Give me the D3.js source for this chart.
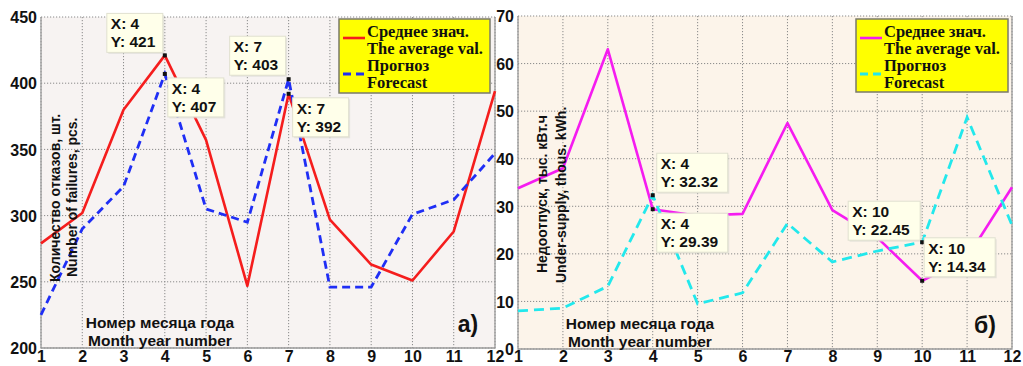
<!DOCTYPE html>
<html>
<head>
<meta charset="utf-8">
<script src="https://cdn.jsdelivr.net/npm/d3@7"></script>
<style>
  html, body { margin: 0; padding: 0; background: #ffffff; }
  svg { display: block; }
  .tick-label { font-family: "Liberation Sans", Arial, sans-serif; font-weight: bold; font-size: 16px; fill: #111; }
  .axis-title { font-family: "Liberation Sans", Arial, sans-serif; font-weight: bold; font-size: 14px; fill: #111; }
  .x-title { font-family: "Liberation Sans", Arial, sans-serif; font-weight: bold; font-size: 15.5px; fill: #111; }
  .legend-text { font-family: "Liberation Serif", "Times New Roman", serif; font-weight: bold; font-size: 16.5px; fill: #111; }
  .tip-text { font-family: "Liberation Sans", Arial, sans-serif; font-weight: bold; font-size: 15.5px; fill: #111; }
  .panel-tag { font-family: "Liberation Sans", Arial, sans-serif; font-weight: bold; font-size: 23px; fill: #111; }
</style>
</head>
<body>
<svg id="chart" width="1023" height="366"></svg>
<script>
// Months 1..12
const months = [1, 2, 3, 4, 5, 6, 7, 8, 9, 10, 11, 12];

// Panel a): number of failures
const failuresAverage  = [279, 302, 380, 421, 357, 247, 392, 297, 263, 251, 288, 394];
const failuresForecast = [225, 290, 322, 407, 305, 295, 403, 246, 246, 301, 312, 347];
const failuresTicks = [200, 250, 300, 350, 400, 450];

// Panel б): under-supply, thousand kWh
const supplyAverage  = [33.8, 38.0, 63.0, 29.39, 28.0, 28.4, 47.5, 29.2, 23.4, 14.34, 19.2, 34.0];
const supplyForecast = [8.0, 8.6, 13.2, 32.32, 9.5, 11.8, 26.4, 18.3, 20.6, 22.45, 48.7, 26.0];
const supplyTicks = [0, 10, 20, 30, 40, 50, 60, 70];

// Data tips: point (month, value) and where its box sits relative to the point
const failuresTips = [
  { x: 4, y: 421, dx: -58, dy: -42, w: 56 },
  { x: 4, y: 407, dx: 3, dy: 4, w: 56 },
  { x: 7, y: 403, dx: -59, dy: -43, w: 56 },
  { x: 7, y: 392, dx: 4, dy: 4, w: 56 }
];
const supplyTips = [
  { x: 4, y: 32.32, dx: 4, dy: -42, w: 71 },
  { x: 4, y: 29.39, dx: 4, dy: 4, w: 71 },
  { x: 10, y: 22.45, dx: -74, dy: -41, w: 72 },
  { x: 10, y: 14.34, dx: 2, dy: -43, w: 71 }
];

const svg = d3.select("#chart");

function panel(cfg) {
  const x = d3.scaleLinear().domain([1, 12]).range([cfg.x0, cfg.x1]);
  const y = d3.scaleLinear().domain(cfg.yDomain).range([cfg.y0, cfg.y1]);
  const g = svg.append("g");

  // plot background
  g.append("rect")
    .attr("x", cfg.x0).attr("y", cfg.y1)
    .attr("width", cfg.x1 - cfg.x0).attr("height", cfg.y0 - cfg.y1)
    .attr("fill", cfg.bg);

  // dotted grid
  g.append("g").selectAll("line").data(months).join("line")
    .attr("x1", d => x(d)).attr("x2", d => x(d))
    .attr("y1", cfg.y1).attr("y2", cfg.y0)
    .attr("stroke", "#8a8a8a").attr("stroke-width", 1).attr("stroke-dasharray", "1.2,1.8");
  g.append("g").selectAll("line").data(cfg.yTicks).join("line")
    .attr("x1", cfg.x0).attr("x2", cfg.x1)
    .attr("y1", d => y(d)).attr("y2", d => y(d))
    .attr("stroke", "#8a8a8a").attr("stroke-width", 1).attr("stroke-dasharray", "1.2,1.8");

  // frame: solid left, bottom, right
  g.append("path")
    .attr("d", `M${cfg.x0},${cfg.y1}V${cfg.y0}H${cfg.x1}V${cfg.y1}`)
    .attr("fill", "none").attr("stroke", "#9a9a9a").attr("stroke-width", 1.3);

  // axes via d3 axis generators, styled as plain bold labels
  const yAxis = d3.axisLeft(y).tickValues(cfg.yTicks).tickSize(0).tickPadding(4);
  const ya = g.append("g").attr("transform", `translate(${cfg.x0},0)`).call(yAxis);
  ya.select(".domain").remove();
  ya.selectAll("text").attr("class", "tick-label").attr("dy", "0.36em");

  const xAxis = d3.axisBottom(x).tickValues(months).tickSize(0).tickPadding(0);
  const xa = g.append("g").attr("transform", `translate(0,${cfg.y0})`).call(xAxis);
  xa.select(".domain").remove();
  xa.selectAll("text").attr("class", "tick-label").attr("dy", null).attr("y", 362 - cfg.y0);

  // series lines
  const line = d3.line().x((d, i) => x(months[i])).y(d => y(d));
  g.append("path").datum(cfg.avg)
    .attr("d", line).attr("fill", "none")
    .attr("stroke", cfg.avgColor).attr("stroke-width", 2.6).attr("stroke-linejoin", "round");
  g.append("path").datum(cfg.fc)
    .attr("d", line).attr("fill", "none")
    .attr("stroke", cfg.fcColor).attr("stroke-width", 2.8)
    .attr("stroke-dasharray", cfg.dash);

  // y axis title (two lines, rotated)
  cfg.yTitle.forEach((t, i) => {
    g.append("text").attr("class", "axis-title")
      .attr("transform", `translate(${cfg.yTitleX[i]},${cfg.yTitleY[i]}) rotate(-90)`)
      .attr("text-anchor", "start")
      .text(t);
  });

  // x axis title inside the plot
  const xc = cfg.xTitleX;
  g.append("text").attr("class", "x-title").attr("x", xc).attr("y", cfg.y0 - 20)
    .attr("text-anchor", "middle").text("Номер месяца года");
  g.append("text").attr("class", "x-title").attr("x", xc).attr("y", cfg.y0 - 2)
    .attr("text-anchor", "middle").text("Month year number");

  // panel tag
  g.append("text").attr("class", "panel-tag")
    .attr("x", cfg.tagX).attr("y", cfg.y0 - 16).attr("text-anchor", "middle").text(cfg.tag);

  // legend
  const L = cfg.legend;
  g.append("rect").attr("x", L.x).attr("y", L.y).attr("width", L.w).attr("height", L.h)
    .attr("fill", "#ffff00").attr("stroke", "#7a7a6a").attr("stroke-width", 1.5);
  g.append("line").attr("x1", L.x + 4).attr("x2", L.x + 26).attr("y1", L.y + 19).attr("y2", L.y + 19)
    .attr("stroke", cfg.avgColor).attr("stroke-width", 2.6);
  g.append("line").attr("x1", L.x + 4).attr("x2", L.x + 26).attr("y1", L.y + 55).attr("y2", L.y + 55)
    .attr("stroke", cfg.fcColor).attr("stroke-width", 2.8).attr("stroke-dasharray", "8,5");
  ["Среднее знач.", "The average val.", "Прогноз", "Forecast"].forEach((t, i) => {
    g.append("text").attr("class", "legend-text")
      .attr("x", L.x + 28).attr("y", L.y + 18 + i * 17).text(t);
  });

  // data tips
  cfg.tips.forEach(tp => {
    const px = x(tp.x), py = y(tp.y);
    const bx = px + tp.dx, by = py + tp.dy;
    g.append("rect").attr("x", bx + 1.5).attr("y", by + 1.5).attr("width", tp.w).attr("height", 39)
      .attr("fill", "#d8d8d0").attr("opacity", 0.6);
    g.append("rect").attr("x", bx).attr("y", by).attr("width", tp.w).attr("height", 39)
      .attr("fill", "#ffffea").attr("stroke", "#e0e0d0").attr("stroke-width", 1);
    g.append("text").attr("class", "tip-text").attr("x", bx + 4).attr("y", by + 16).text(`X: ${tp.x}`);
    g.append("text").attr("class", "tip-text").attr("x", bx + 4).attr("y", by + 34).text(`Y: ${tp.y}`);
    g.append("rect").attr("x", px - 2).attr("y", py - 2).attr("width", 4).attr("height", 4).attr("fill", "#111");
  });
}

panel({
  x0: 41, x1: 495, y0: 348, y1: 17,
  yDomain: [200, 450], yTicks: failuresTicks,
  bg: "#f7f3f2",
  avg: failuresAverage, fc: failuresForecast,
  avgColor: "#f51d1d", fcColor: "#1f2ef5", dash: "8,5",
  yTitle: ["Количество отказов, шт.", "Number of failures, pcs."],
  yTitleX: [60, 77], yTitleY: [282, 277],
  xTitleX: 160, tag: "a)", tagX: 468,
  legend: { x: 339, y: 19, w: 151, h: 74 },
  tips: failuresTips
});

panel({
  x0: 518, x1: 1012, y0: 349, y1: 16,
  yDomain: [0, 70], yTicks: supplyTicks,
  bg: "#fcf4ea",
  avg: supplyAverage, fc: supplyForecast,
  avgColor: "#f51cf0", fcColor: "#22e8ec", dash: "10,6",
  yTitle: ["Недоотпуск, тыс. кВт.ч", "Under-supply, thous. kWh."],
  yTitleX: [547, 566], yTitleY: [273, 283],
  xTitleX: 640, tag: "б)", tagX: 985,
  legend: { x: 856, y: 19, w: 152, h: 73 },
  tips: supplyTips
});
</script>
</body>
</html>
